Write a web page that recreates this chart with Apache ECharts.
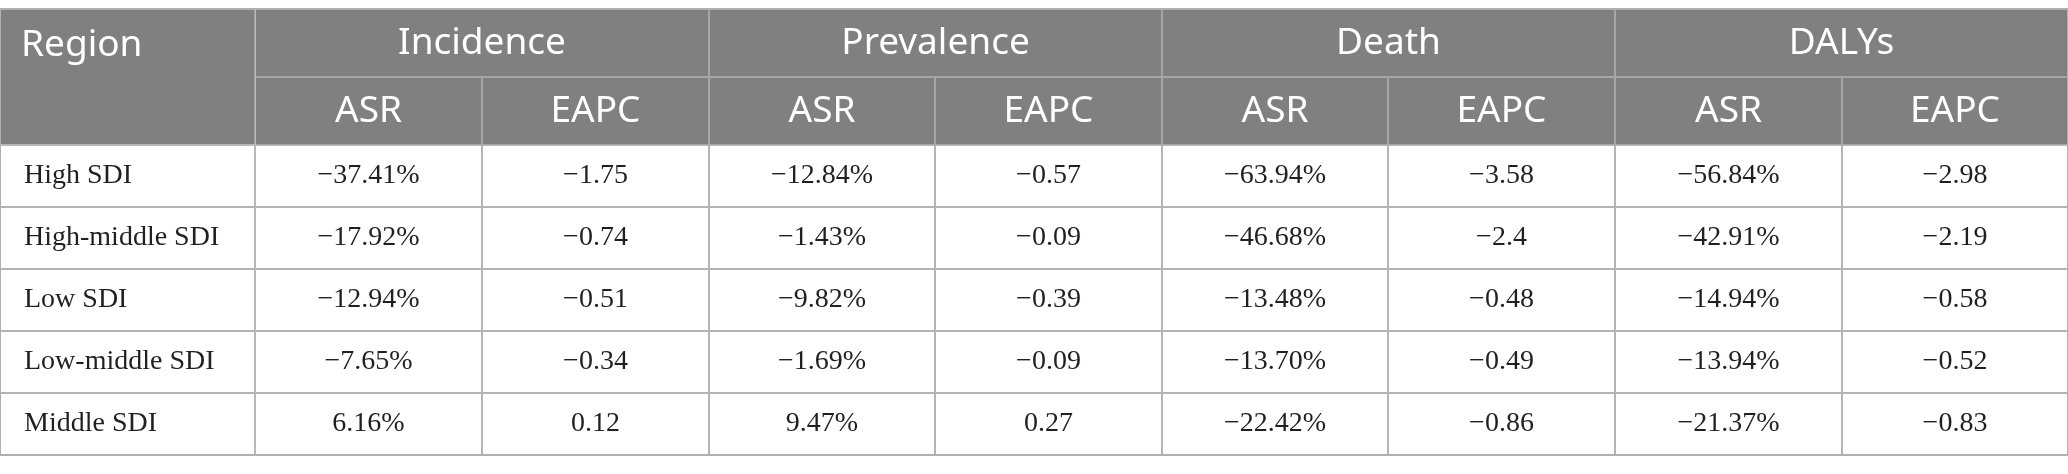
<!DOCTYPE html>
<html>
<head>
<meta charset="utf-8">
<title>SDI regions table</title>
<style>
    html, body { margin: 0; padding: 0; background: #fff; }
    #chart { width: 2068px; height: 474px; }
</style>
<script src="https://cdn.jsdelivr.net/npm/echarts@6/dist/echarts.min.js"></script>
</head>
<body>
<div id="chart"></div>
<script>
    // table content
    const regions = ['High SDI', 'High-middle SDI', 'Low SDI', 'Low-middle SDI', 'Middle SDI'];
    const measures = ['Incidence', 'Prevalence', 'Death', 'DALYs'];
    const subCols = ['ASR', 'EAPC'];

    const incidenceASR = [-37.41, -17.92, -12.94, -7.65, 6.16];
    const incidenceEAPC = [-1.75, -0.74, -0.51, -0.34, 0.12];
    const prevalenceASR = [-12.84, -1.43, -9.82, -1.69, 9.47];
    const prevalenceEAPC = [-0.57, -0.09, -0.39, -0.09, 0.27];
    const deathASR = [-63.94, -46.68, -13.48, -13.70, -22.42];
    const deathEAPC = [-3.58, -2.4, -0.48, -0.49, -0.86];
    const dalysASR = [-56.84, -42.91, -14.94, -13.94, -21.37];
    const dalysEAPC = [-2.98, -2.19, -0.58, -0.52, -0.83];

    const columns = [incidenceASR, incidenceEAPC, prevalenceASR, prevalenceEAPC,
        deathASR, deathEAPC, dalysASR, dalysEAPC];

    const minus = s => s.replace('-', '\u2212');
    const fmtASR = v => minus(v.toFixed(2)) + '%';
    const fmtEAPC = v => minus(String(v));

    const HEAD_GRAY = '#808080';
    const HEAD_LINE = '#a6a6a6';
    const BODY_LINE = '#b4b4b4';
    const TEXT = '#231f20';

    let bodyCells = [];
    columns.forEach(function (col, ci) {
        col.forEach(function (v, ri) {
            bodyCells.push({
                coord: [ci, ri],
                value: ci % 2 === 0 ? fmtASR(v) : fmtEAPC(v)
            });
        });
    });

    // the matrix wants unique header values; a trailing zero-width space keeps
    // each repeated ASR / EAPC apart without changing what is shown
    const xHeader = measures.map((m, mi) => ({
        value: m,
        children: subCols.map(s => s + '\u200b'.repeat(mi))
    }));

    const chart = echarts.init(document.getElementById('chart'));

    chart.setOption({
        animation: false,
        matrix: {
            left: 0,
            right: 0,
            top: 9,
            bottom: 19,
            x: {
                data: xHeader,
                levels: [{ levelSize: 68 }, { levelSize: 68 }],
                itemStyle: { color: HEAD_GRAY, borderColor: HEAD_LINE, borderWidth: 2 },
                label: {
                    color: '#fff', fontFamily: 'Noto Sans', fontSize: 37,
                    offset: [0, 4]
                }
            },
            y: {
                data: regions,
                levelSize: 255,
                itemStyle: { color: '#fff', borderColor: BODY_LINE, borderWidth: 2 },
                label: {
                    color: TEXT, fontFamily: 'Liberation Serif', fontSize: 28,
                    position: 'insideLeft', distance: 21, offset: [0, 3]
                }
            },
            corner: {
                data: [{
                    coord: [-1, [-2, -1]],
                    mergeCells: true,
                    value: 'Region',
                    label: { position: 'insideTopLeft', distance: 0, padding: [18, 0, 0, 21] }
                }],
                itemStyle: { color: HEAD_GRAY, borderColor: HEAD_LINE, borderWidth: 2 },
                label: { color: '#fff', fontFamily: 'Noto Sans', fontSize: 37 }
            },
            body: {
                data: bodyCells,
                itemStyle: { color: '#fff', borderColor: BODY_LINE, borderWidth: 2 },
                label: {
                    color: TEXT, fontFamily: 'Liberation Serif', fontSize: 28,
                    offset: [0, 3]
                }
            },
            backgroundStyle: { color: '#fff', borderColor: '#b0b0b0', borderWidth: 2 }
        }
    });

    window.onresize = function () {
        chart.resize();
    };
</script>
</body>
</html>
